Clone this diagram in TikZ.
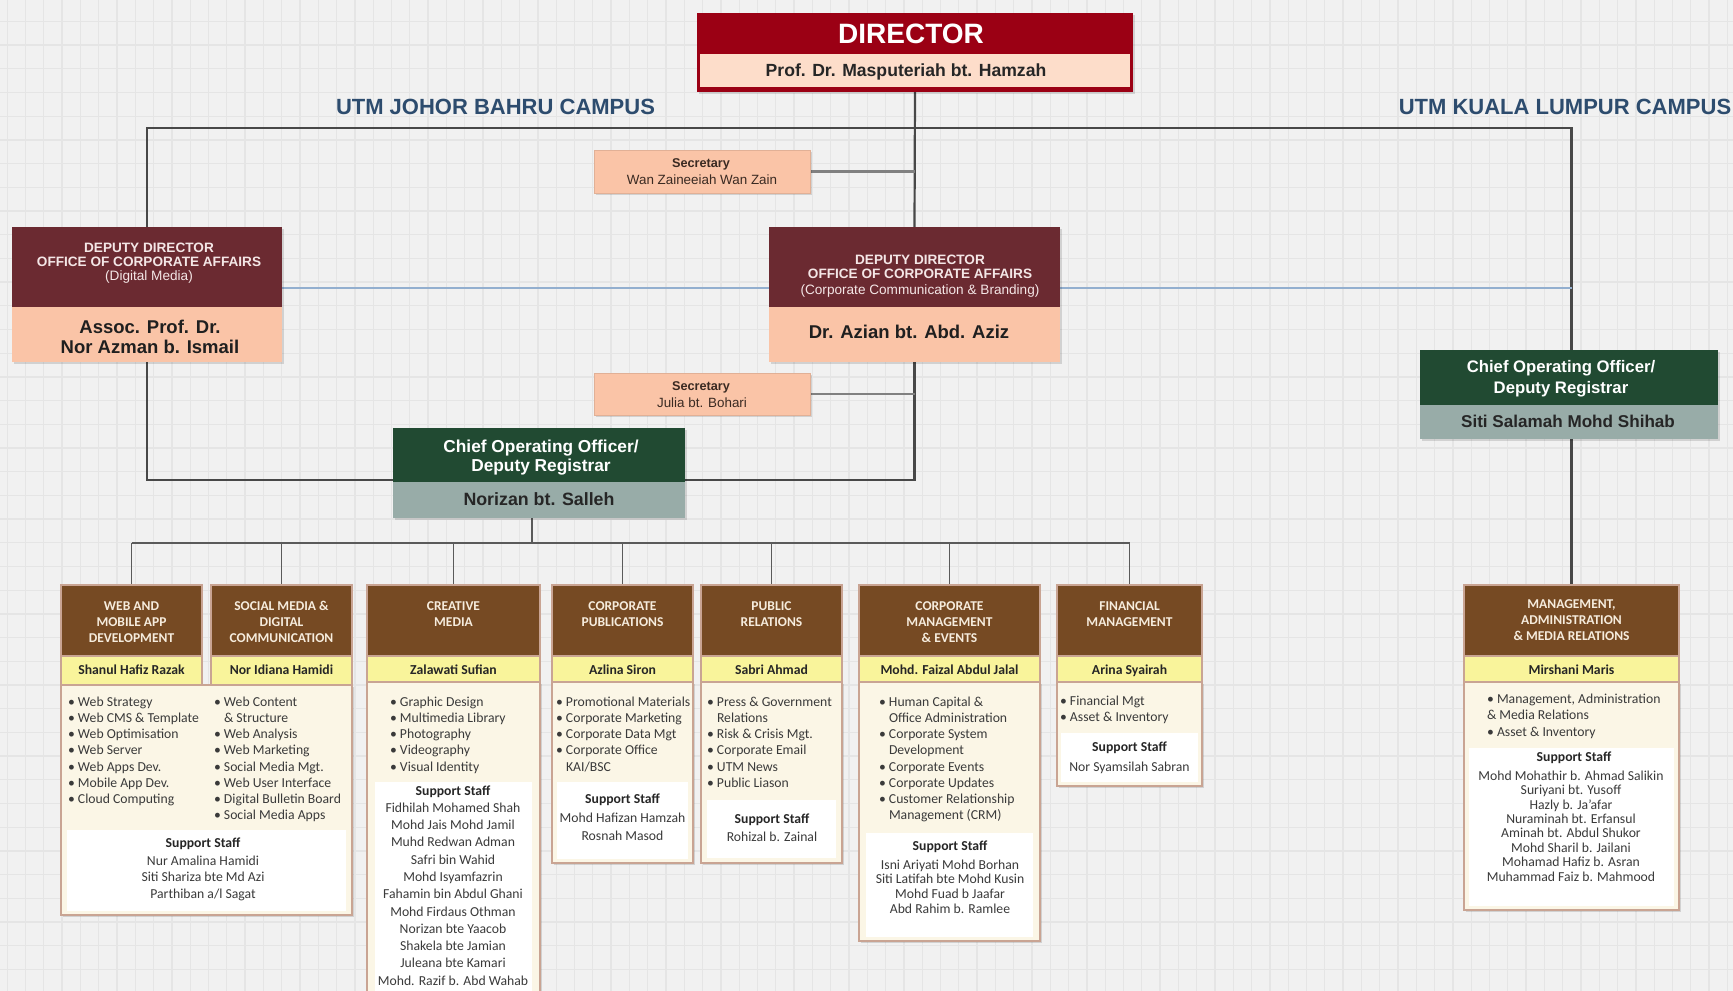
\documentclass[tikz,border=0pt]{standalone}
\usepackage{fontspec}
\setmainfont{Carlito}
\newfontfamily\arialf{Liberation Sans}
\usetikzlibrary{calc}
\pgfdeclarelayer{bgl}
\pgfdeclarelayer{back}
\pgfsetlayers{bgl,back,main}

\definecolor{bgc}{HTML}{F1F1F1}
\definecolor{gridc}{HTML}{E5E5E5}
\definecolor{linec}{HTML}{484848}
\definecolor{seclc}{HTML}{808080}
\definecolor{bluec}{HTML}{93AFCF}
\definecolor{dirred}{HTML}{9B0014}
\definecolor{dirpeach}{HTML}{FDDDCA}
\definecolor{maroonc}{HTML}{6B2A31}
\definecolor{peachc}{HTML}{FAC4A7}
\definecolor{cgreen}{HTML}{214A32}
\definecolor{cgray}{HTML}{98ACA8}
\definecolor{hbrown}{HTML}{764A23}
\definecolor{yelc}{HTML}{F9F49B}
\definecolor{creamc}{HTML}{FBF6E6}
\definecolor{bordc}{HTML}{C9A493}
\definecolor{campc}{HTML}{2D4C6E}
\definecolor{htxt}{HTML}{F6ECDD}
\definecolor{btxt}{HTML}{3A3A3A}
\definecolor{hdw}{HTML}{F4E6E6}
\definecolor{sectc}{HTML}{3A2A22}

\newcommand\bu{\makebox[10pt][l]{\textbullet}}
\newcommand\nb{\hspace*{10pt}}
% name, style, x1, y1, x2, y2
\newcommand\bx[6]{\node[#2, minimum width={(#5)-(#3)}, minimum height={(#6)-(#4)}] (#1) at ({((#3)+(#5))/2},{((#4)+(#6))/2}) {};}
% prefix, style, x, y0, dy, list
\newcommand\lns[6]{\foreach \t [count=\i from 0] in {#6} {\node[#2] (#1\i) at (#3,{#4+#5*\i}) {\t};}}

\begin{document}
\begin{tikzpicture}[x=1pt,y=-1pt,
  every node/.style={inner sep=0pt,outer sep=0pt},
  shad/.style={preaction={fill=black,opacity=0.13,transform canvas={xshift=2pt,yshift=-2pt}}},
  conn/.style={draw=linec,line width=2.2pt},
  seccon/.style={draw=seclc,line width=2.6pt},
  busl/.style={draw=linec!90,line width=1.6pt},
  bluel/.style={draw=bluec,line width=2pt},
  dirt/.style={font=\arialf\bfseries\fontsize{28}{30}\selectfont,text=white,text height=20pt,text depth=0pt},
  dirn/.style={font=\arialf\bfseries\fontsize{17.6}{20}\selectfont,text=black!85,text height=12.6pt,text depth=0pt},
  camp/.style={font=\arialf\bfseries\fontsize{22}{24}\selectfont,text=campc,text height=15.8pt,text depth=0pt},
  deph/.style={font=\arialf\bfseries\fontsize{13.6}{15}\selectfont,text=hdw,text height=9.7pt,text depth=0pt},
  dephr/.style={font=\arialf\fontsize{13.6}{15}\selectfont,text=hdw,text height=9.7pt,text depth=0pt},
  depn/.style={font=\arialf\bfseries\fontsize{18.5}{20}\selectfont,text=black!88,text height=13.2pt,text depth=0pt},
  cooh/.style={font=\arialf\bfseries\fontsize{17.3}{20}\selectfont,text=white,text height=12.4pt,text depth=0pt},
  coon/.style={font=\arialf\bfseries\fontsize{17.8}{20}\selectfont,text=black!85,text height=12.7pt,text depth=0pt},
  sect/.style={font=\arialf\bfseries\fontsize{12.7}{15}\selectfont,text=sectc,text height=9.1pt,text depth=0pt},
  secn/.style={font=\arialf\fontsize{13.4}{15}\selectfont,text=sectc,text height=9.6pt,text depth=0pt},
  hd/.style={font=\bfseries\fontsize{13.5}{16}\selectfont,text=htxt,text height=8.7pt,text depth=0pt},
  nm/.style={font=\bfseries\fontsize{13.7}{16}\selectfont,text=black!85,text height=10pt,text depth=3.5pt},
  bl/.style={anchor=west,font=\fontsize{13.7}{16}\selectfont,text=btxt,text height=10pt,text depth=3.5pt},
  ssh/.style={font=\bfseries\fontsize{13.7}{16}\selectfont,text=black!85,text height=10pt,text depth=3.5pt},
  ssn/.style={font=\fontsize{13.7}{16}\selectfont,text=btxt,text height=10pt,text depth=3.5pt},
  hdr/.style={fill=hbrown,draw=bordc,line width=1.5pt},
  nband/.style={fill=yelc,draw=bordc,line width=1.5pt},
  body/.style={shad,fill=creamc,draw=bordc,line width=2pt},
  supp/.style={fill=white}
]
\useasboundingbox (0,0) rectangle (1733,991);
\clip (0,0) rectangle (1733,991);
\begin{pgfonlayer}{bgl}
\fill[bgc] (0,0) rectangle (1733,991);
\foreach \i in {0,...,94} \draw[gridc,line width=1.3pt] ({7.2+18.3*\i},0) -- ({7.2+18.3*\i},991);
\foreach \j in {0,...,40} \draw[gridc,line width=1.3pt] (0,{21.4+23.7*\j}) -- (1733,{21.4+23.7*\j});
\end{pgfonlayer}

% ---------- Director ----------
\bx{dir}{shad,fill=dirred}{697}{13}{1133}{92}
\bx{dirN}{fill=dirpeach}{700}{54}{1130}{87}
\node[dirt] (dirT) at (911,33.8) {DIRECTOR};
\node[dirn] (dirNT) at (906,70) {Prof. Dr. Masputeriah bt. Hamzah};

% ---------- campus labels ----------
\node[camp] (jb) at (495.5,106.5) {UTM JOHOR BAHRU CAMPUS};
\node[camp] (kl) at (1565,106.5) {UTM KUALA LUMPUR CAMPUS};

% ---------- secretaries ----------
\bx{sec1}{shad,fill=peachc,draw=peachc!90!black,line width=0.6pt}{594}{150}{810}{193}
\node[sect] (sec1a) at (701,163.3) {Secretary};
\node[secn] (sec1b) at (702,179.3) {Wan Zaineeiah Wan Zain};
\bx{sec2}{shad,fill=peachc,draw=peachc!90!black,line width=0.6pt}{594}{373}{810}{415}
\node[sect] (sec2a) at (701,386.3) {Secretary};
\node[secn] (sec2b) at (702,402.3) {Julia bt. Bohari};

% ---------- deputy directors ----------
\bx{dep1}{shad,fill=peachc}{12}{227}{282}{362}
\bx{dep1h}{fill=maroonc}{12}{227}{282}{307}
\node[deph] (dep1a) at (149,247.3) {DEPUTY DIRECTOR};
\node[deph] (dep1b) at (149,261.3) {OFFICE OF CORPORATE AFFAIRS};
\node[dephr] (dep1c) at (149,275.3) {(Digital Media)};
\node[depn] (dep1n1) at (150,326.7) {Assoc. Prof. Dr.};
\node[depn] (dep1n2) at (150,346.7) {Nor Azman b. Ismail};

\bx{dep2}{shad,fill=peachc}{769}{227}{1060}{362}
\bx{dep2h}{fill=maroonc}{769}{227}{1060}{307}
\node[deph] (dep2a) at (920,259.3) {DEPUTY DIRECTOR};
\node[deph] (dep2b) at (920,273.3) {OFFICE OF CORPORATE AFFAIRS};
\node[dephr] (dep2c) at (920,289.3) {(Corporate Communication \& Branding)};
\node[depn] (dep2n) at (909,331.7) {Dr. Azian bt. Abd. Aziz};

% ---------- COOs ----------
\bx{coo1}{shad,fill=cgray}{393}{428}{685}{518}
\bx{coo1h}{fill=cgreen}{393}{428}{685}{482}
\node[cooh] (coo1a) at (541,446) {Chief Operating Officer/};
\node[cooh] (coo1b) at (541,465.7) {Deputy Registrar};
\node[coon] (coo1n) at (539,499.3) {Norizan bt. Salleh};

\bx{coo2}{shad,fill=cgray}{1420}{350}{1718}{439}
\bx{coo2h}{fill=cgreen}{1420}{350}{1718}{405}
\node[cooh,font=\arialf\bfseries\fontsize{16.7}{20}\selectfont] (coo2a) at (1561,366.7) {Chief Operating Officer/};
\node[cooh,font=\arialf\bfseries\fontsize{16.7}{20}\selectfont] (coo2b) at (1561,387.7) {Deputy Registrar};
\node[coon,font=\arialf\bfseries\fontsize{17.1}{20}\selectfont] (coo2n) at (1568,420.7) {Siti Salamah Mohd Shihab};

% ---------- bottom units ----------
% Web & Social
\bx{wsB}{body}{61}{685}{352}{915}
\bx{wsS}{supp}{67}{830}{346}{911}
\bx{webH}{hdr}{61}{585}{202}{656}
\bx{socH}{hdr}{211}{585}{352}{656}
\bx{webN}{nband}{61}{656}{202}{685}
\bx{socN}{nband}{211}{656}{352}{685}
\lns{webh}{hd}{131.5}{606}{16}{WEB AND, MOBILE APP, DEVELOPMENT}
\lns{soch}{hd}{281.5}{606}{16}{SOCIAL MEDIA \&, DIGITAL, COMMUNICATION}
\node[nm] (webn) at (131.5,671.5) {Shanul Hafiz Razak};
\node[nm] (socn) at (281.5,671.5) {Nor Idiana Hamidi};
\lns{webl}{bl}{68}{703}{16.2}{\bu Web Strategy, \bu Web CMS \& Template, \bu Web Optimisation, \bu Web Server, \bu Web Apps Dev., \bu Mobile App Dev., \bu Cloud Computing}
\lns{socl}{bl}{214}{703}{16.2}{\bu Web Content, \nb\& Structure, \bu Web Analysis, \bu Web Marketing, \bu Social Media Mgt., \bu Web User Interface, \bu Digital Bulletin Board, \bu Social Media Apps}
\node[ssh] (wss) at (203,844) {Support Staff};
\lns{wsn}{ssn}{203}{862}{16.5}{Nur Amalina Hamidi, Siti Shariza bte Md Azi, Parthiban a/l Sagat}

% Creative media
\bx{creB}{body}{367}{682}{540}{1010}
\bx{creS}{supp}{375}{782}{532}{1010}
\bx{creH}{hdr}{367}{585}{540}{656}
\bx{creN}{nband}{367}{656}{540}{682}
\lns{creh}{hd}{453.5}{606}{16}{CREATIVE, MEDIA}
\node[nm] (cren) at (453.5,671.5) {Zalawati Sufian};
\lns{crel}{bl}{390}{703}{16.2}{\bu Graphic Design, \bu Multimedia Library, \bu Photography, \bu Videography, \bu Visual Identity}
\node[ssh] (cres) at (453,792) {Support Staff};
\lns{cren}{ssn}{453}{809}{17.3}{Fidhilah Mohamed Shah, Mohd Jais Mohd Jamil, Muhd Redwan Adman, Safri bin Wahid, Mohd Isyamfazrin, Fahamin bin Abdul Ghani, Mohd Firdaus Othman, Norizan bte Yaacob, Shakela bte Jamian, Juleana bte Kamari, Mohd. Razif b. Abd Wahab}

% Corporate publications
\bx{cpuB}{body}{552}{682}{693}{863}
\bx{cpuS}{supp}{557}{782}{688}{859}
\bx{cpuH}{hdr}{552}{585}{693}{656}
\bx{cpuN}{nband}{552}{656}{693}{682}
\lns{cpuh}{hd}{622.5}{606}{16}{CORPORATE, PUBLICATIONS}
\node[nm] (cpun) at (622.5,671.5) {Azlina Siron};
\lns{cpul}{bl}{556}{703}{16.2}{\bu Promotional Materials, \bu Corporate Marketing, \bu Corporate Data Mgt, \bu Corporate Office, \nb KAI/BSC}
\node[ssh] (cpus) at (622.5,800) {Support Staff};
\lns{cpunn}{ssn}{622.5}{819}{18}{Mohd Hafizan Hamzah, Rosnah Masod}

% Public relations
\bx{prB}{body}{701}{682}{842}{863}
\bx{prS}{supp}{707}{800}{836}{858}
\bx{prH}{hdr}{701}{585}{842}{656}
\bx{prN}{nband}{701}{656}{842}{682}
\lns{prh}{hd}{771.5}{606}{16}{PUBLIC, RELATIONS}
\node[nm] (prn) at (771.5,671.5) {Sabri Ahmad};
\lns{prl}{bl}{707}{703}{16.2}{\bu Press \& Government, \nb Relations, \bu Risk \& Crisis Mgt., \bu Corporate Email, \bu UTM News, \bu Public Liason}
\node[ssh] (prs) at (772,820) {Support Staff};
\node[ssn] (prs1) at (772,838) {Rohizal b. Zainal};

% Corporate management & events
\bx{cmeB}{body}{859}{682}{1040}{941}
\bx{cmeS}{supp}{866}{833}{1033}{937}
\bx{cmeH}{hdr}{859}{585}{1040}{656}
\bx{cmeN}{nband}{859}{656}{1040}{682}
\lns{cmeh}{hd}{949.5}{606}{16}{CORPORATE, MANAGEMENT, \& EVENTS}
\node[nm] (cmen) at (949.5,671.5) {Mohd. Faizal Abdul Jalal};
\lns{cmel}{bl}{879}{703}{16.2}{\bu Human Capital \&, \nb Office Administration, \bu Corporate System, \nb Development, \bu Corporate Events, \bu Corporate Updates, \bu Customer Relationship, \nb Management (CRM)}
\node[ssh] (cmes) at (950,847) {Support Staff};
\lns{cmenn}{ssn}{950}{866}{14.7}{Isni Ariyati Mohd Borhan, Siti Latifah bte Mohd Kusin, Mohd Fuad b Jaafar, Abd Rahim b. Ramlee}

% Financial management
\bx{finB}{body}{1057}{682}{1202}{786}
\bx{finS}{supp}{1061}{733}{1198}{782}
\bx{finH}{hdr}{1057}{585}{1202}{656}
\bx{finN}{nband}{1057}{656}{1202}{682}
\lns{finh}{hd}{1129.5}{606}{16}{FINANCIAL, MANAGEMENT}
\node[nm] (finn) at (1129.5,671.5) {Arina Syairah};
\lns{finl}{bl}{1060}{702}{16.2}{\bu Financial Mgt, \bu Asset \& Inventory}
\node[ssh] (fins) at (1129.5,748) {Support Staff};
\node[ssn] (fins1) at (1129.5,768) {Nor Syamsilah Sabran};

% Management, administration & media relations (KL)
\bx{mmrB}{body}{1464}{682}{1679}{910}
\bx{mmrS}{supp}{1469}{748}{1674}{906}
\bx{mmrH}{hdr}{1464}{585}{1679}{656}
\bx{mmrN}{nband}{1464}{656}{1679}{682}
\lns{mmrh}{hd}{1571.5}{604}{16}{{MANAGEMENT,}, ADMINISTRATION, \& MEDIA RELATIONS}
\node[nm] (mmrn) at (1571.5,671.5) {Mirshani Maris};
\lns{mmrl}{bl}{1487}{700}{16.5}{{\bu Management, Administration}, \& Media Relations, \bu Asset \& Inventory}
\node[ssh] (mmrs) at (1574,758) {Support Staff};
\lns{mmrnn}{ssn}{1571}{777}{14.4}{Mohd Mohathir b. Ahmad Salikin, Suriyani bt. Yusoff, Hazly b. Ja'afar, Nuraminah bt. Erfansul, Aminah bt. Abdul Shukor, Mohd Sharil b. Jailani, Mohamad Hafiz b. Asran, Muhammad Faiz b. Mahmood}

% ---------- connectors ----------
\coordinate (topR) at (mmrH.north |- 0,128);
\coordinate (lowY) at (0,480);
\coordinate (blueY) at (0,288);
\coordinate (busY) at (0,543);
\coordinate (cooB) at ($(coo1.south)+(-7,0)$);
\begin{pgfonlayer}{back}
\draw[conn] (dir.south) -- (dep2.north);
\draw[conn] (dep1.north) |- (topR) -- (topR |- coo2.north);
\draw[conn] (dep1.south) |- (lowY -| dep2.south) -- (dep2.south);
\draw[seccon] (sec1.east) -- (sec1.east -| dep2.north);
\draw[seccon] (sec2.east) -- (sec2.east -| dep2.south);
\draw[bluel] (dep1.east |- blueY) -- (dep2.west |- blueY);
\draw[bluel] (dep2.east |- blueY) -- (topR |- blueY);
\draw[conn] (topR |- coo2.south) -- (mmrH.north);
\draw[busl] (cooB) -- (cooB |- busY);
\draw[busl] (webH.north |- busY) -- (finH.north |- busY);
\foreach \h in {webH,socH,creH,cpuH,prH,cmeH,finH} \draw[busl] (\h.north |- busY) -- (\h.north);
\end{pgfonlayer}
\end{tikzpicture}
\end{document}
